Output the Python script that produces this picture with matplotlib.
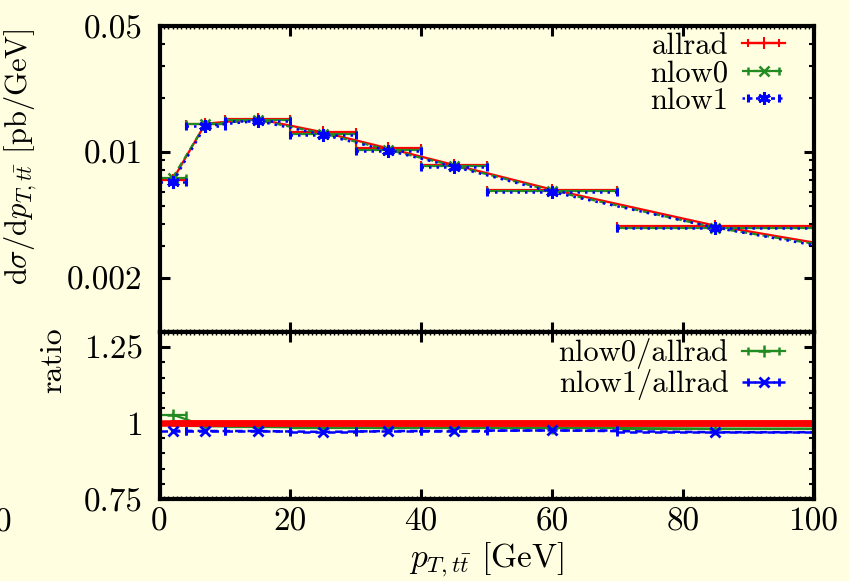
import matplotlib
matplotlib.use("Agg")
import matplotlib.pyplot as plt
import matplotlib.ticker as mticker
import numpy as np

# bins in pT(tt) [GeV] (last one lies outside the plotted range)
bin_lo = [0, 4, 10, 20, 30, 40, 50, 70, 100]
bin_hi = [4, 10, 20, 30, 40, 50, 70, 100, 150]
bin_mid = [2, 7, 15, 25, 35, 45, 60, 85, 125]

# dsigma/dpT [pb/GeV]
allrad = [0.0070, 0.0144, 0.0153, 0.0129, 0.0105, 0.0085, 0.0062, 0.0039, 0.0022]
nlow0 = [0.0072, 0.0143, 0.0151, 0.0127, 0.0103, 0.0084, 0.0061, 0.0038, 0.0022]
nlow1 = [0.0068, 0.0140, 0.0149, 0.0125, 0.0102, 0.0083, 0.0060, 0.0038, 0.0021]

# ratios to allrad
ratio_allrad = [1, 1, 1, 1, 1, 1, 1, 1, 1]
ratio_nlow0 = [1.028, 0.99, 0.988, 0.985, 0.985, 0.985, 0.985, 0.982, 0.982]
ratio_nlow1 = [0.975, 0.974, 0.974, 0.971, 0.974, 0.974, 0.976, 0.970, 0.970]

xticks = [0, 20, 40, 60, 80, 100]
yticks_top = [0.002, 0.01, 0.05]
yticks_top_lab = ["0.002", "0.01", "0.05"]
yticks_bot = [0.75, 1, 1.25]
yticks_bot_lab = ["0.75", "1", "1.25"]

plt.rcParams['font.family'] = 'serif'
plt.rcParams['font.serif'] = ['cmr10']
plt.rcParams['mathtext.fontset'] = 'cm'
plt.rcParams['axes.formatter.use_mathtext'] = True
plt.rcParams['font.size'] = 24

bg = '#fffee0'
red = '#ff0000'
green = '#228b22'
blue = '#0000ff'

fig = plt.figure(figsize=(8.49, 5.81), dpi=100, facecolor=bg)
ax1 = fig.add_axes([0.1879, 0.4286, 0.7703, 0.5258], facecolor=bg)
ax2 = fig.add_axes([0.1879, 0.1411, 0.7703, 0.2874], facecolor=bg, sharex=ax1)

x = np.array(bin_mid)
xerr = [x - np.array(bin_lo), np.array(bin_hi) - x]

# top panel
ax1.errorbar(x, allrad, xerr=xerr, color=red, lw=1.6, ls='-', marker='+', ms=8, mew=1.5,
             capsize=3, capthick=1.5, elinewidth=1.6, label='allrad', zorder=3)
ax1.errorbar(x, nlow0, xerr=xerr, color=green, lw=1.6, ls=(0, (3, 2)), marker='x', ms=7, mew=1.8,
             capsize=3, capthick=1.5, elinewidth=1.6, label='nlow0', zorder=4)
e3 = ax1.errorbar(x, nlow1, xerr=xerr, color=blue, lw=1.8, ls=(0, (1, 2)), marker=(6, 2, 0), ms=9, mew=2.2,
                  capsize=3, capthick=1.5, elinewidth=1.8, label='nlow1', zorder=5)
e3[2][0].set_linestyle((0, (1, 2)))

ax1.set_yscale('log')
ax1.set_ylim(0.001, 0.05)
ax1.set_xlim(0, 100)
ax1.yaxis.set_major_locator(mticker.FixedLocator(yticks_top))
ax1.yaxis.set_major_formatter(mticker.FixedFormatter(yticks_top_lab))
ax1.yaxis.set_minor_locator(mticker.LogLocator(base=10, subs=np.arange(1, 10)))
ax1.yaxis.set_minor_formatter(mticker.NullFormatter())
ax1.set_ylabel(r'd$\sigma$/d$p_{T,t\bar{t}}$ [pb/GeV]', fontsize=22)
ax1.yaxis.set_label_coords(-0.185, 0.573)
plt.setp(ax1.get_xticklabels(), visible=False)

ax1.legend(loc='upper right', bbox_to_anchor=(0.989, 1.05), markerfirst=False, frameon=False,
           fontsize=22, handlelength=1.4, handletextpad=0.45, labelspacing=0.0, borderpad=0.2)

# bottom panel
ax2.errorbar(x, ratio_allrad, xerr=xerr, color=red, lw=4.7, elinewidth=4.7, capsize=0, zorder=3)
ax2.errorbar(x, ratio_nlow0, xerr=xerr, color=green, lw=1.6, ls='-', marker='+', ms=9, mew=1.8,
             capsize=3, capthick=1.5, elinewidth=1.6, label='nlow0/allrad', zorder=2)
e4 = ax2.errorbar(x, ratio_nlow1, xerr=xerr, color=blue, lw=1.8, ls=(0, (3, 2)), marker='x', ms=7, mew=2,
                  capsize=3, capthick=1.5, elinewidth=1.8, label='nlow1/allrad', zorder=4)
e4[2][0].set_linestyle((0, (3, 2)))
ax2.set_ylim(0.75, 1.3)
ax2.set_xlim(0, 100)
ax2.yaxis.set_major_locator(mticker.FixedLocator(yticks_bot))
ax2.yaxis.set_major_formatter(mticker.FixedFormatter(yticks_bot_lab))
ax2.yaxis.set_minor_locator(mticker.MultipleLocator(0.05))
ax2.set_xticks(xticks)
ax2.set_xticklabels([str(v) for v in xticks])
ax2.xaxis.set_minor_locator(mticker.MultipleLocator(2 / 3))
ax2.set_ylabel('ratio', fontsize=23)
ax2.yaxis.set_label_coords(-0.142, 0.83)
ax2.set_xlabel(r'$p_{T,t\bar{t}}$ [GeV]', fontsize=24, labelpad=3)

ax2.legend(loc='upper right', bbox_to_anchor=(0.989, 1.09), markerfirst=False, frameon=False,
           fontsize=22, handlelength=1.4, handletextpad=0.45, labelspacing=0.0, borderpad=0.2)

for ax in (ax1, ax2):
    for s in ax.spines.values():
        s.set_linewidth(3)
        s.set_zorder(10)
    ax.tick_params(which='major', direction='in', length=7, width=2.2, top=True, right=True, pad=12)
    ax.tick_params(which='minor', direction='in', length=3.5, width=1.5, top=True, right=True)
ax2.tick_params(axis='x', which='minor', length=2, width=1.0)
ax1.tick_params(axis='x', which='minor', length=2, width=1.0)
ax2.tick_params(axis='x', which='major', pad=6)

fig.text(3 / 849, 1 - 523 / 581, '0', ha='center', va='center')

fig.savefig('out.png', dpi=100, facecolor=bg)
